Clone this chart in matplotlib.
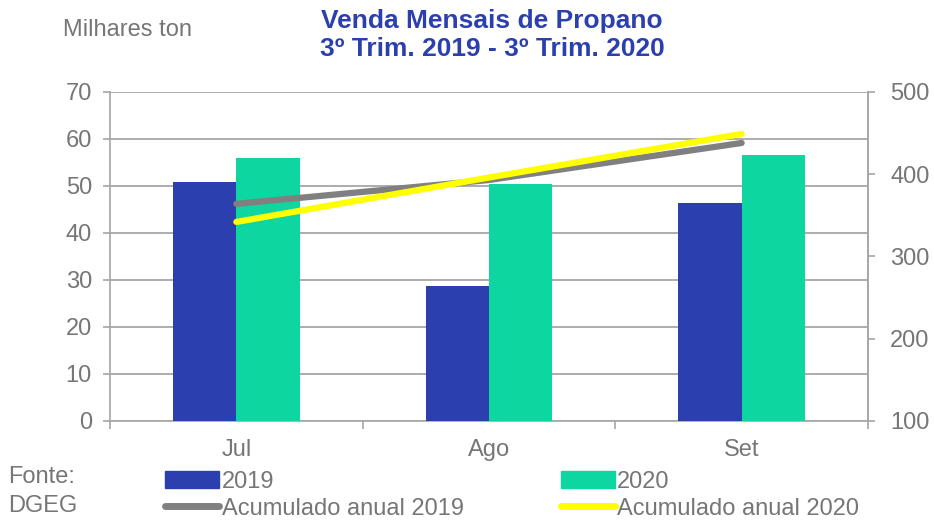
import matplotlib.pyplot as plt
import numpy as np
from matplotlib.lines import Line2D
from matplotlib.patches import Patch

plt.rcParams['font.family'] = ['Liberation Sans', 'DejaVu Sans']

meses = ['Jul', 'Ago', 'Set']
vendas_2019 = [50.9, 28.7, 46.4]
vendas_2020 = [56.0, 50.4, 56.6]
acum_2019 = [364, 393, 438]
acum_2020 = [342, 396, 449]

cor_2019 = '#2b40ae'
cor_2020 = '#0dd6a0'
cinza_txt = '#767676'
cinza_eixo = '#a6a6a6'
fs = 17

fig = plt.figure(figsize=(9.34, 5.22), dpi=100)
ax = fig.add_axes([0.1178, 0.1935, 0.8115, 0.6303])
x = np.arange(len(meses))
w = 0.25

ax.bar(x - w / 2, vendas_2019, w, color=cor_2019, zorder=3)
ax.bar(x + w / 2, vendas_2020, w, color=cor_2020, zorder=3)

ax.set_xlim(-0.5, 2.5)
ax.set_ylim(0, 70)
ax.set_yticks(range(0, 71, 10))
ax.set_xticks(x)
ax.set_xticklabels(meses)
ax.set_xticks([-0.5, 0.5, 1.5, 2.5], minor=True)
ax.tick_params(axis='x', which='major', length=0, pad=13)
ax.tick_params(axis='x', which='minor', length=6, color=cinza_eixo, width=1.2)
ax.tick_params(axis='both', which='major', labelsize=fs, labelcolor=cinza_txt)
ax.tick_params(axis='y', length=5, color=cinza_eixo, width=1.2, pad=8)
ax.grid(axis='y', color=cinza_eixo, linewidth=1.3, zorder=0)
ax.spines['top'].set_visible(False)
for s in ['left', 'bottom', 'right']:
    ax.spines[s].set_color(cinza_eixo)
    ax.spines[s].set_linewidth(1.2)

ax2 = ax.twinx()
ax2.plot(x, acum_2019, color='#808080', linewidth=4.5, solid_capstyle='round', zorder=4)
ax2.plot(x, acum_2020, color='#ffff00', linewidth=4.5, solid_capstyle='round', zorder=5)
ax2.set_ylim(100, 500)
ax2.set_yticks(range(100, 501, 100))
ax2.tick_params(axis='y', labelsize=fs, labelcolor=cinza_txt, length=5,
                color=cinza_eixo, width=1.2, pad=11)
for s in ['top', 'left', 'bottom']:
    ax2.spines[s].set_visible(False)
ax2.spines['right'].set_color(cinza_eixo)
ax2.spines['right'].set_linewidth(1.2)

fig.text(0.067, 0.943, 'Milhares ton', fontsize=fs, color=cinza_txt, va='center')
fig.text(0.527, 0.933, 'Venda Mensais de Propano\n3º Trim. 2019 - 3º Trim. 2020',
         fontsize=19, fontweight='bold', color='#2b40ae', ha='center', va='center',
         linespacing=1.25)
fig.text(0.009, 0.058, 'Fonte:\nDGEG', fontsize=fs, color=cinza_txt, va='center',
         linespacing=1.4)

handles = [Patch(color=cor_2019),
           Line2D([0], [0], color='#808080', linewidth=5, solid_capstyle='round'),
           Patch(color=cor_2020),
           Line2D([0], [0], color='#ffff00', linewidth=5, solid_capstyle='round')]
labels = ['2019', 'Acumulado anual 2019', '2020', 'Acumulado anual 2020']
leg = fig.legend(handles, labels, ncol=2, loc='upper left', bbox_to_anchor=(0.1767, 0.098),
                 frameon=False, fontsize=fs, handlelength=2.3, handleheight=0.7,
                 handletextpad=0.1, columnspacing=4.1, labelspacing=0.2,
                 borderpad=0, borderaxespad=0)
for t in leg.get_texts():
    t.set_color(cinza_txt)

fig.savefig('out.png', dpi=100)
